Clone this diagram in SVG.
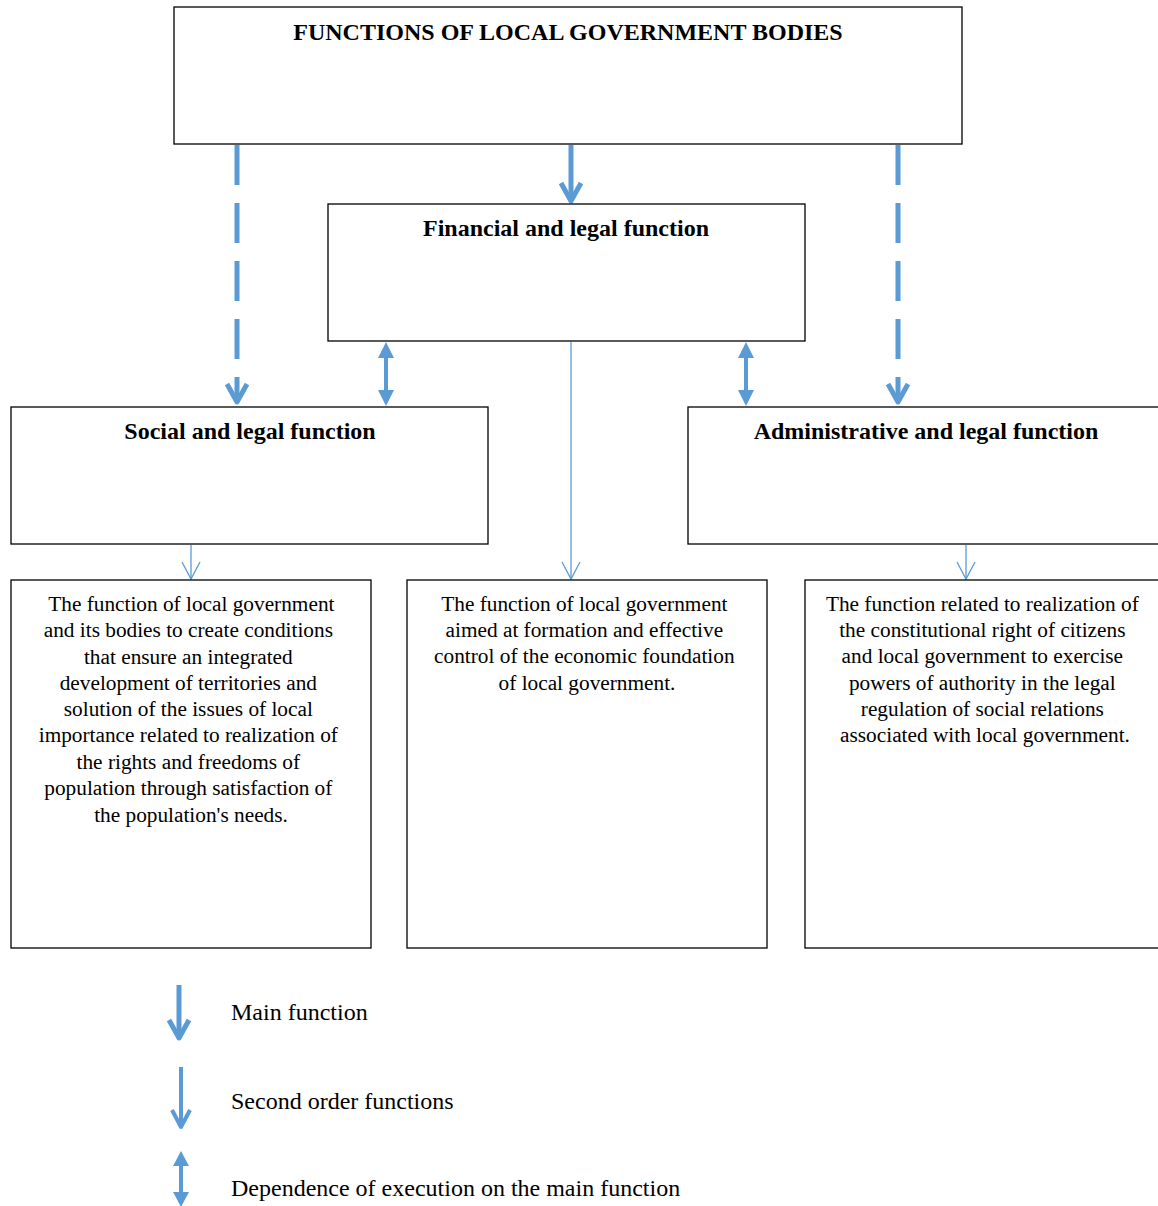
<svg xmlns="http://www.w3.org/2000/svg" width="1158" height="1206" viewBox="0 0 1158 1206">
<style>
.box{fill:#fff;stroke:#000;stroke-width:1.3}
.title{font-family:"Liberation Serif",serif;font-weight:bold;font-size:24px;text-anchor:middle;fill:#000}
.body{font-family:"Liberation Serif",serif;font-size:21.3px;text-anchor:middle;fill:#000}
.leg{font-family:"Liberation Serif",serif;font-size:24px;fill:#000}
.blue{stroke:#5B9BD5;fill:none;stroke-linecap:butt}
.tri{fill:#5B9BD5}
</style>
<rect width="1158" height="1206" fill="#fff"/>
<g id="connectors">
  <line class="blue" x1="237" y1="145" x2="237" y2="400" stroke-width="5" stroke-dasharray="40 18"/>
  <polyline class="blue" points="227,384 237,402 247,384" stroke-width="5" stroke-linejoin="round" stroke-linecap="round"/>
  <line class="blue" x1="898" y1="145" x2="898" y2="400" stroke-width="5" stroke-dasharray="40 18"/>
  <polyline class="blue" points="888,384 898,402 908,384" stroke-width="5" stroke-linejoin="round" stroke-linecap="round"/>
  <line class="blue" x1="571" y1="145" x2="571" y2="200" stroke-width="5"/>
  <polyline class="blue" points="561,183 571,201 581,183" stroke-width="5" stroke-linejoin="round" stroke-linecap="round"/>
  <line class="blue" x1="386" y1="355" x2="386" y2="393" stroke-width="4"/>
  <polygon class="tri" points="386,342 378,358 394,358"/>
  <polygon class="tri" points="386,406 378,390 394,390"/>
  <line class="blue" x1="746" y1="355" x2="746" y2="393" stroke-width="4"/>
  <polygon class="tri" points="746,342 738,358 754,358"/>
  <polygon class="tri" points="746,406 738,390 754,390"/>
  <line class="blue" x1="191" y1="545" x2="191" y2="579" stroke-width="1.3"/>
  <polyline class="blue" points="182,562 191,579 200,562" stroke-width="1.3"/>
  <line class="blue" x1="571" y1="342" x2="571" y2="579" stroke-width="1.3"/>
  <polyline class="blue" points="562,562 571,579 580,562" stroke-width="1.3"/>
  <line class="blue" x1="966" y1="545" x2="966" y2="579" stroke-width="1.3"/>
  <polyline class="blue" points="957,562 966,579 975,562" stroke-width="1.3"/>
</g>
<g id="top">
  <rect class="box" x="174" y="7" width="788" height="137"/>
  <text class="title" x="568" y="40">FUNCTIONS OF LOCAL GOVERNMENT BODIES</text>
</g>
<g id="financial">
  <rect class="box" x="328" y="204" width="477" height="137"/>
  <text class="title" x="566" y="236">Financial and legal function</text>
</g>
<g id="social">
  <rect class="box" x="11" y="407" width="477" height="137"/>
  <text class="title" x="250" y="439">Social and legal function</text>
</g>
<g id="administrative">
  <rect class="box" x="688" y="407" width="480" height="137"/>
  <text class="title" x="926" y="439">Administrative and legal function</text>
</g>
<g id="social-desc">
  <rect class="box" x="11" y="580" width="360" height="368"/>
  <text class="body">
    <tspan x="194" y="611">The function of local government</tspan>
    <tspan x="191" y="637">and its bodies to create conditions</tspan>
    <tspan x="191" y="664">that ensure an integrated</tspan>
    <tspan x="191" y="690">development of territories and</tspan>
    <tspan x="191" y="716">solution of the issues of local</tspan>
    <tspan x="191" y="742">importance related to realization of</tspan>
    <tspan x="191" y="769">the rights and freedoms of</tspan>
    <tspan x="191" y="795">population through satisfaction of</tspan>
    <tspan x="191" y="822">the population's needs.</tspan>
  </text>
</g>
<g id="financial-desc">
  <rect class="box" x="407" y="580" width="360" height="368"/>
  <text class="body">
    <tspan x="587" y="611">The function of local government</tspan>
    <tspan x="587" y="637">aimed at formation and effective</tspan>
    <tspan x="587" y="663">control of the economic foundation</tspan>
    <tspan x="587" y="690">of local government.</tspan>
  </text>
</g>
<g id="admin-desc">
  <rect class="box" x="805" y="580" width="360" height="368"/>
  <text class="body">
    <tspan x="985" y="611">The function related to realization of</tspan>
    <tspan x="985" y="637">the constitutional right of citizens</tspan>
    <tspan x="985" y="663">and local government to exercise</tspan>
    <tspan x="985" y="690">powers of authority in the legal</tspan>
    <tspan x="985" y="716">regulation of social relations</tspan>
    <tspan x="985" y="742">associated with local government.</tspan>
  </text>
</g>
<g id="legend">
  <line class="blue" x1="179" y1="985" x2="179" y2="1036" stroke-width="5"/>
  <polyline class="blue" points="169,1020 179,1038 189,1020" stroke-width="5" stroke-linejoin="round" stroke-linecap="round"/>
  <text class="leg" x="231" y="1020">Main function</text>
  <line class="blue" x1="181" y1="1067" x2="181" y2="1126" stroke-width="4"/>
  <polyline class="blue" points="172,1110 181,1127 190,1110" stroke-width="4" stroke-linejoin="round" stroke-linecap="round"/>
  <text class="leg" x="231" y="1109">Second order functions</text>
  <line class="blue" x1="181" y1="1162" x2="181" y2="1200" stroke-width="4"/>
  <polygon class="tri" points="181,1151 173,1166 189,1166"/>
  <polygon class="tri" points="181,1207 173,1192 189,1192"/>
  <text class="leg" x="231" y="1196">Dependence of execution on the main function</text>
</g>
</svg>
